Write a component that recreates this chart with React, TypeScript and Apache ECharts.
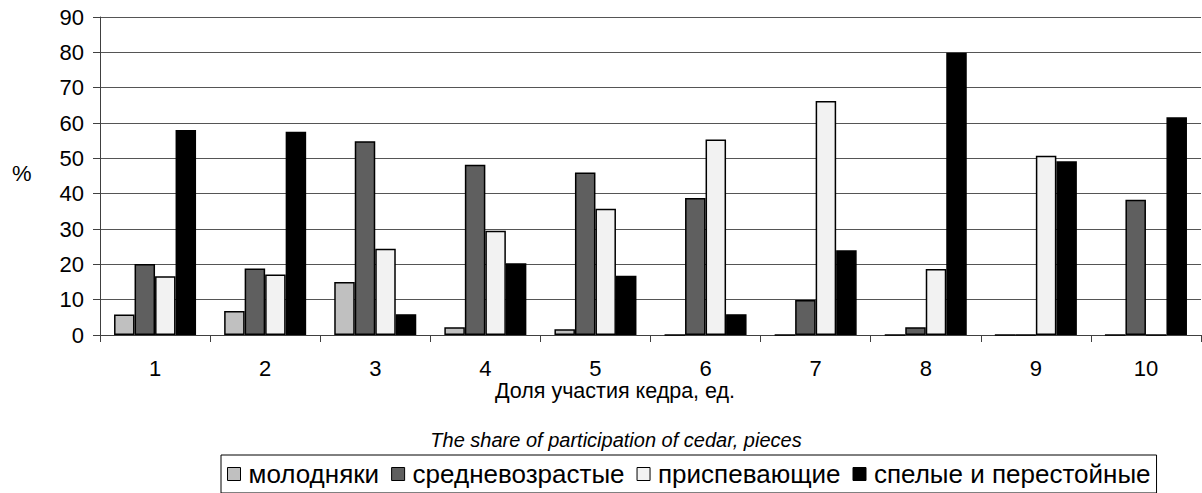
import React, { useEffect, useRef } from "react";
import * as echarts from "echarts";

const categories = ["1", "2", "3", "4", "5", "6", "7", "8", "9", "10"];
const seriesNames = ["молодняки", "средневозрастые", "приспевающие", "спелые и перестойные"];
const molodnyaki = [5.8, 6.8, 15.0, 2.2, 1.6, 0, 0, 0, 0, 0];
const srednevozrastnye = [20.1, 18.8, 54.8, 48.2, 46.0, 38.8, 9.9, 2.2, 0, 38.3];
const prispevayushchie = [16.6, 17.1, 24.4, 29.5, 35.7, 55.3, 66.2, 18.7, 50.7, 0];
const spelye = [58.0, 57.5, 5.9, 20.3, 16.8, 5.9, 24.0, 79.9, 49.2, 61.6];
const yTicks = { min: 0, max: 90, interval: 10 };
const colors = ["#c0c0c0", "#5f5f5f", "#f2f2f2", "#000000"];

const FONT = "'Liberation Sans', Arial, sans-serif";

export default function App() {
  const ref = useRef<HTMLDivElement>(null);
  useEffect(() => {
    document.body.style.margin = "0";
    if (!ref.current) return;
    const chart = echarts.init(ref.current, undefined, { renderer: "svg" });
    const values = [molodnyaki, srednevozrastnye, prispevayushchie, spelye];
    chart.setOption({
      animation: false,
      textStyle: { fontFamily: FONT, color: "#000" },
      grid: { left: 100, right: 1, top: 17, bottom: 158, containLabel: false },
      legend: {
        data: seriesNames,
        left: 221,
        top: 455,
        orient: "horizontal",
        borderColor: "#000",
        borderWidth: 1,
        padding: [6, 6, 6, 6],
        itemGap: 12,
        itemWidth: 13,
        itemHeight: 13,
        icon: "rect",
        itemStyle: { borderColor: "#000", borderWidth: 1 },
        textStyle: { fontFamily: FONT, fontSize: 26, color: "#000", padding: [0, 0, 0, 3] },
      },
      xAxis: {
        type: "category",
        data: categories,
        boundaryGap: true,
        axisLine: { show: true, lineStyle: { color: "#404040", width: 1 } },
        axisTick: { show: true, length: 7, lineStyle: { color: "#404040" } },
        axisLabel: { fontFamily: FONT, fontSize: 22, color: "#000", margin: 22 },
        splitLine: { show: false },
      },
      yAxis: {
        type: "value",
        min: yTicks.min,
        max: yTicks.max,
        interval: yTicks.interval,
        axisLine: { show: true, lineStyle: { color: "#404040", width: 1 } },
        axisTick: { show: true, length: 7, lineStyle: { color: "#404040" } },
        axisLabel: { fontFamily: FONT, fontSize: 22, color: "#000", margin: 16 },
        splitLine: { show: true, lineStyle: { color: "#555", width: 1 } },
      },
      series: values.map((v, i) => ({
        name: seriesNames[i],
        type: "bar",
        data: v,
        barGap: "0%",
        barCategoryGap: "25.5%",
        itemStyle: { color: colors[i], borderColor: "#000", borderWidth: 1.5 },
      })),
      graphic: [
        {
          type: "text",
          left: 12,
          top: 162,
          style: { text: "%", fontFamily: FONT, fontSize: 22, fill: "#000" },
        },
        {
          type: "text",
          x: 615,
          y: 391,
          style: {
            text: "Доля участия кедра, ед.",
            fontFamily: FONT,
            fontSize: 21.5,
            fill: "#000",
            align: "center",
            verticalAlign: "middle",
          },
        },
        {
          type: "text",
          x: 616,
          y: 440,
          style: {
            text: "The share of participation of cedar, pieces",
            fontFamily: FONT,
            fontSize: 20,
            fontStyle: "italic",
            fill: "#000",
            align: "center",
            verticalAlign: "middle",
          },
        },
      ],
    });
    return () => chart.dispose();
  }, []);
  return <div ref={ref} style={{ width: 1202, height: 493 }} />;
}
